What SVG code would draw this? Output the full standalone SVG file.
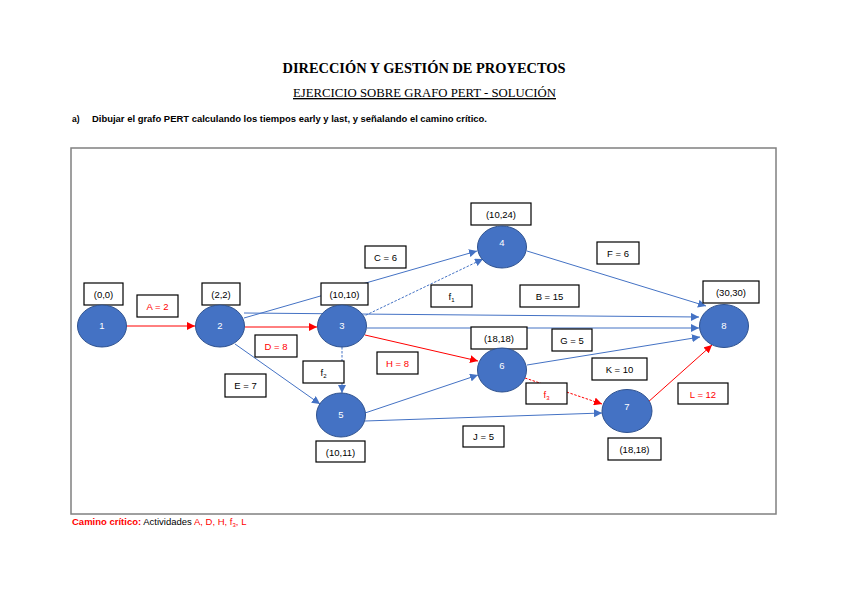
<svg xmlns="http://www.w3.org/2000/svg" width="848" height="599" viewBox="0 0 848 599">
<defs>
<marker id="ab" markerUnits="userSpaceOnUse" markerWidth="9" markerHeight="8" refX="8" refY="4" orient="auto"><path d="M0,0 L8,4 L0,8 Z" fill="#4472C4"/></marker>
<marker id="ar" markerUnits="userSpaceOnUse" markerWidth="9" markerHeight="8" refX="8" refY="4" orient="auto"><path d="M0,0 L8,4 L0,8 Z" fill="#FF0000"/></marker>
</defs>
<style>
.n{fill:#4472C4;stroke:#2F528F;stroke-width:1}
.nt{font-family:"Liberation Sans",Arial,sans-serif;font-size:9.5px;fill:#fff;text-anchor:middle}
.bx{fill:#fff;stroke:#000;stroke-width:1.2}
.t{font-family:"Liberation Sans",Arial,sans-serif;font-size:9.5px;fill:#000;text-anchor:middle}
.r{fill:#FF0000}
.lb{stroke:#4472C4;stroke-width:1;fill:none}
.lr{stroke:#FF0000;stroke-width:1;fill:none}
.d{stroke-dasharray:2.5,1.5}
</style>
<rect width="848" height="599" fill="#fff"/>
<text x="424" y="73" font-family="'Liberation Serif',serif" font-weight="bold" font-size="15" text-anchor="middle" textLength="283" lengthAdjust="spacingAndGlyphs">DIRECCIÓN Y GESTIÓN DE PROYECTOS</text>
<text x="424.5" y="97" font-family="'Liberation Serif',serif" font-size="13.5" text-anchor="middle" text-decoration="underline" textLength="263" lengthAdjust="spacingAndGlyphs">EJERCICIO SOBRE GRAFO PERT  - SOLUCIÓN</text>
<text x="72" y="122" font-family="'Liberation Sans',Arial,sans-serif" font-weight="bold" font-size="8.5">a)</text>
<text x="92" y="122" font-family="'Liberation Sans',Arial,sans-serif" font-weight="bold" font-size="8.5" textLength="395" lengthAdjust="spacingAndGlyphs">Dibujar el grafo PERT calculando los tiempos early y last,  y señalando el camino crítico.</text>
<rect x="71" y="148" width="705" height="366" fill="none" stroke="#808080" stroke-width="1.5"/>
<g id="connectors">
<line class="lr" x1="127" y1="326" x2="195" y2="326" marker-end="url(#ar)"/>
<line class="lr" x1="245" y1="327" x2="317" y2="327" marker-end="url(#ar)"/>
<line class="lb" x1="244" y1="318" x2="477" y2="251" marker-end="url(#ab)"/>
<line class="lb" x1="244" y1="313" x2="699" y2="317" marker-end="url(#ab)"/>
<line class="lb" x1="367" y1="328" x2="699" y2="328" marker-end="url(#ab)"/>
<line class="lb d" x1="362" y1="317" x2="483" y2="259" marker-end="url(#ab)"/>
<line class="lb" x1="527" y1="251" x2="706" y2="306" marker-end="url(#ab)"/>
<line class="lr" x1="365" y1="335" x2="478" y2="361" marker-end="url(#ar)"/>
<line class="lb" x1="235" y1="344" x2="320" y2="404" marker-end="url(#ab)"/>
<line class="lb d" x1="342" y1="347" x2="342" y2="393" marker-end="url(#ab)"/>
<line class="lb" x1="365" y1="413" x2="478" y2="375" marker-end="url(#ab)"/>
<line class="lb" x1="365" y1="421" x2="602" y2="413" marker-end="url(#ab)"/>
<line class="lb" x1="527" y1="365" x2="700" y2="337" marker-end="url(#ab)"/>
<line class="lr d" x1="525" y1="378" x2="602" y2="404" marker-end="url(#ar)"/>
<line class="lr" x1="647" y1="403" x2="712" y2="345" marker-end="url(#ar)"/>
<rect class="bx" x="137" y="295" width="41" height="22"/><text class="t r" x="157.5" y="309.5">A = 2</text>
<rect class="bx" x="255" y="335" width="42" height="22"/><text class="t r" x="276" y="349.5">D = 8</text>
<rect class="bx" x="365" y="246" width="41" height="22"/><text class="t" x="385.5" y="260.5">C = 6</text>
<rect class="bx" x="431" y="285" width="41" height="22"/><text class="t" x="451.5" y="299.5">f<tspan font-size="6" dy="2">1</tspan></text>
<rect class="bx" x="520" y="285" width="59" height="22"/><text class="t" x="549.5" y="299.5">B  = 15</text>
<rect class="bx" x="597" y="242" width="42" height="22"/><text class="t" x="618" y="256.5">F = 6</text>
<rect class="bx" x="552" y="329" width="40" height="22"/><text class="t" x="572" y="343.5">G  = 5</text>
<rect class="bx" x="592" y="358" width="55" height="22"/><text class="t" x="619.5" y="372.5">K = 10</text>
<rect class="bx" x="678" y="383" width="50" height="21"/><text class="t r" x="703" y="397.5">L = 12</text>
<rect class="bx" x="526" y="383" width="41" height="21"/><text class="t r" x="546.5" y="397.5">f<tspan font-size="6" dy="2">3</tspan></text>
<rect class="bx" x="377" y="352" width="41" height="22"/><text class="t r" x="397.5" y="366.5">H = 8</text>
<rect class="bx" x="303" y="361" width="41" height="22"/><text class="t" x="323.5" y="375.5">f<tspan font-size="6" dy="2">2</tspan></text>
<rect class="bx" x="225" y="374" width="41" height="23"/><text class="t" x="245.5" y="389">E = 7</text>
<rect class="bx" x="463" y="426" width="41" height="21"/><text class="t" x="483.5" y="440">J = 5</text>
</g>
<g id="node1"><rect class="bx" x="84" y="283" width="39" height="22"/><text class="t" x="103.5" y="297.5">(0,0)</text><ellipse class="n" cx="102" cy="326" rx="24.5" ry="21"/><text class="nt" x="102" y="329">1</text></g>
<g id="node2"><rect class="bx" x="202" y="283" width="38" height="22"/><text class="t" x="221" y="297.5">(2,2)</text><ellipse class="n" cx="220" cy="326" rx="24.5" ry="21"/><text class="nt" x="220" y="329">2</text></g>
<g id="node3"><rect class="bx" x="321" y="283" width="47" height="22"/><text class="t" x="344.5" y="297.5">(10,10)</text><ellipse class="n" cx="342" cy="326" rx="24.5" ry="21"/><text class="nt" x="342" y="329">3</text></g>
<g id="node4"><rect class="bx" x="471" y="203" width="60" height="22"/><text class="t" x="501" y="217.5">(10,24)</text><ellipse class="n" cx="502" cy="247" rx="24.5" ry="21"/><text class="nt" x="502" y="246">4</text></g>
<g id="node5"><rect class="bx" x="316" y="441" width="49" height="21"/><text class="t" x="340.5" y="455.5">(10,11)</text><ellipse class="n" cx="341" cy="415" rx="24.5" ry="22"/><text class="nt" x="341" y="418">5</text></g>
<g id="node6"><rect class="bx" x="471" y="327" width="56" height="22"/><text class="t" x="499" y="341.5">(18,18)</text><ellipse class="n" cx="502" cy="370" rx="24.5" ry="22"/><text class="nt" x="502" y="369">6</text></g>
<g id="node7"><rect class="bx" x="608" y="438" width="53" height="22"/><text class="t" x="634.5" y="452.5">(18,18)</text><ellipse class="n" cx="627" cy="411" rx="25" ry="21.5"/><text class="nt" x="627" y="410">7</text></g>
<g id="node8"><rect class="bx" x="703" y="281" width="56" height="22"/><text class="t" x="731" y="295.5">(30,30)</text><ellipse class="n" cx="724" cy="326" rx="24.5" ry="21.5"/><text class="nt" x="724" y="329">8</text></g>
<text x="72" y="525" font-family="'Liberation Sans',Arial,sans-serif" font-size="9.5"><tspan fill="#FF0000" font-weight="bold">Camino crítico:</tspan><tspan fill="#000"> Actividades </tspan><tspan fill="#FF0000">A, D, H, f<tspan font-size="6" dy="1.5">3</tspan><tspan dy="-1.5">, L</tspan></tspan></text>
</svg>
